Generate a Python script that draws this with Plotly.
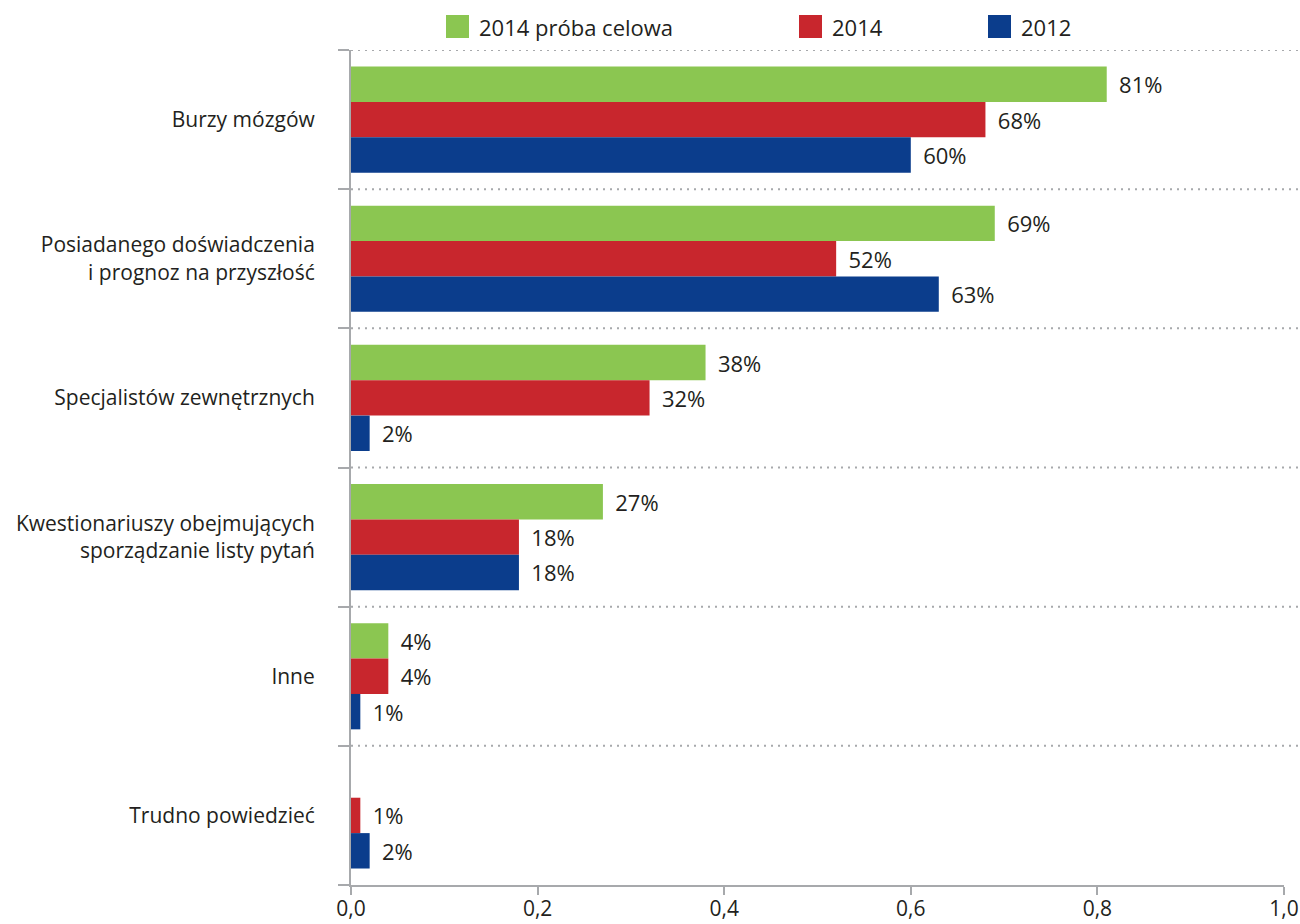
import plotly.graph_objects as go

categories = [
    "Burzy mózgów",
    "Posiadanego doświadczenia<br>i prognoz na przyszłość",
    "Specjalistów zewnętrznych",
    "Kwestionariuszy obejmujących<br>sporządzanie listy pytań",
    "Inne",
    "Trudno powiedzieć",
]
series_names = ["2014 próba celowa", "2014", "2012"]
values_2014_celowa = [0.81, 0.69, 0.38, 0.27, 0.04, None]
values_2014 = [0.68, 0.52, 0.32, 0.18, 0.04, 0.01]
values_2012 = [0.60, 0.63, 0.02, 0.18, 0.01, 0.02]
colors = ["#8bc651", "#c8262d", "#0b3d8c"]
x_ticks = [0.0, 0.2, 0.4, 0.6, 0.8, 1.0]

FONT = "Open Sans"
TEXT_COLOR = "#231f20"
AXIS_COLOR = "#a7a9ac"

W, H = 1300, 924
M_L, M_R, M_T, M_B = 351, 16, 50, 39
PLOT_W = W - M_L - M_R
PLOT_H = H - M_T - M_B


def px_x(x):
    """Page pixel x -> paper coordinate."""
    return (x - M_L) / PLOT_W


def px_y(y):
    """Page pixel y -> paper coordinate."""
    return (H - M_B - y) / PLOT_H


n = len(categories)
centers = [i + 0.5 for i in range(n)]
boundaries = list(range(n + 1))

fig = go.Figure()
for name, vals, col in zip(series_names,
                           [values_2014_celowa, values_2014, values_2012],
                           colors):
    fig.add_trace(go.Bar(
        y=centers,
        x=vals,
        name=name,
        orientation="h",
        marker=dict(color=col, line=dict(width=0)),
        text=[("\u00a0\u2009" + f"{round(v * 100)}%") if v is not None else "" for v in vals],
        textposition="outside",
        textfont=dict(family=FONT, size=22, color=TEXT_COLOR),
        cliponaxis=False,
        showlegend=False,
        hoverinfo="skip",
    ))

# dotted separators between category groups
for b in boundaries[:-1]:
    fig.add_shape(type="line", xref="paper", yref="y",
                  x0=0, x1=px_x(1298), y0=b, y1=b,
                  line=dict(color=AXIS_COLOR, width=2, dash="2px,5px"),
                  layer="below")

# legend row across the top: colour square + series name
legend_left = [446, 799, 988]
for name, col, left in zip(series_names, colors, legend_left):
    fig.add_shape(type="rect", xref="paper", yref="paper",
                  x0=px_x(left), x1=px_x(left + 23),
                  y0=px_y(38), y1=px_y(15),
                  fillcolor=col, line=dict(width=0))
    fig.add_annotation(xref="paper", yref="paper",
                       x=px_x(left + 31), y=px_y(27),
                       xanchor="left", yanchor="middle",
                       text=name, showarrow=False,
                       font=dict(family=FONT, size=22, color=TEXT_COLOR))

fig.update_layout(
    width=W, height=H,
    margin=dict(l=M_L, r=M_R, t=M_T, b=M_B),
    paper_bgcolor="white", plot_bgcolor="white",
    separators=", ",
    barmode="group",
    bargap=0.237,
    bargroupgap=0,
    showlegend=False,
    font=dict(family=FONT, size=21, color=TEXT_COLOR),
    xaxis=dict(
        range=[0, 1], tickvals=x_ticks, tickformat=".1f",
        showgrid=False, zeroline=False, automargin=False,
        showline=True, linecolor=AXIS_COLOR, linewidth=2,
        ticks="outside", ticklen=8, tickwidth=2, tickcolor=AXIS_COLOR,
        tickfont=dict(family=FONT, size=21, color=TEXT_COLOR),
        ticklabelstandoff=-4,
    ),
    yaxis=dict(
        range=[n, 0], tickmode="array", tickvals=centers, ticktext=categories,
        ticks="", showgrid=False, zeroline=False, automargin=False,
        showline=True, linecolor=AXIS_COLOR, linewidth=2,
        tickfont=dict(family=FONT, size=21, color=TEXT_COLOR),
        ticklabelstandoff=30,
        minor=dict(tickmode="array", tickvals=boundaries, ticks="outside",
                   ticklen=11, tickwidth=2, tickcolor=AXIS_COLOR, showgrid=False),
    ),
)

fig.write_html("out.html")
